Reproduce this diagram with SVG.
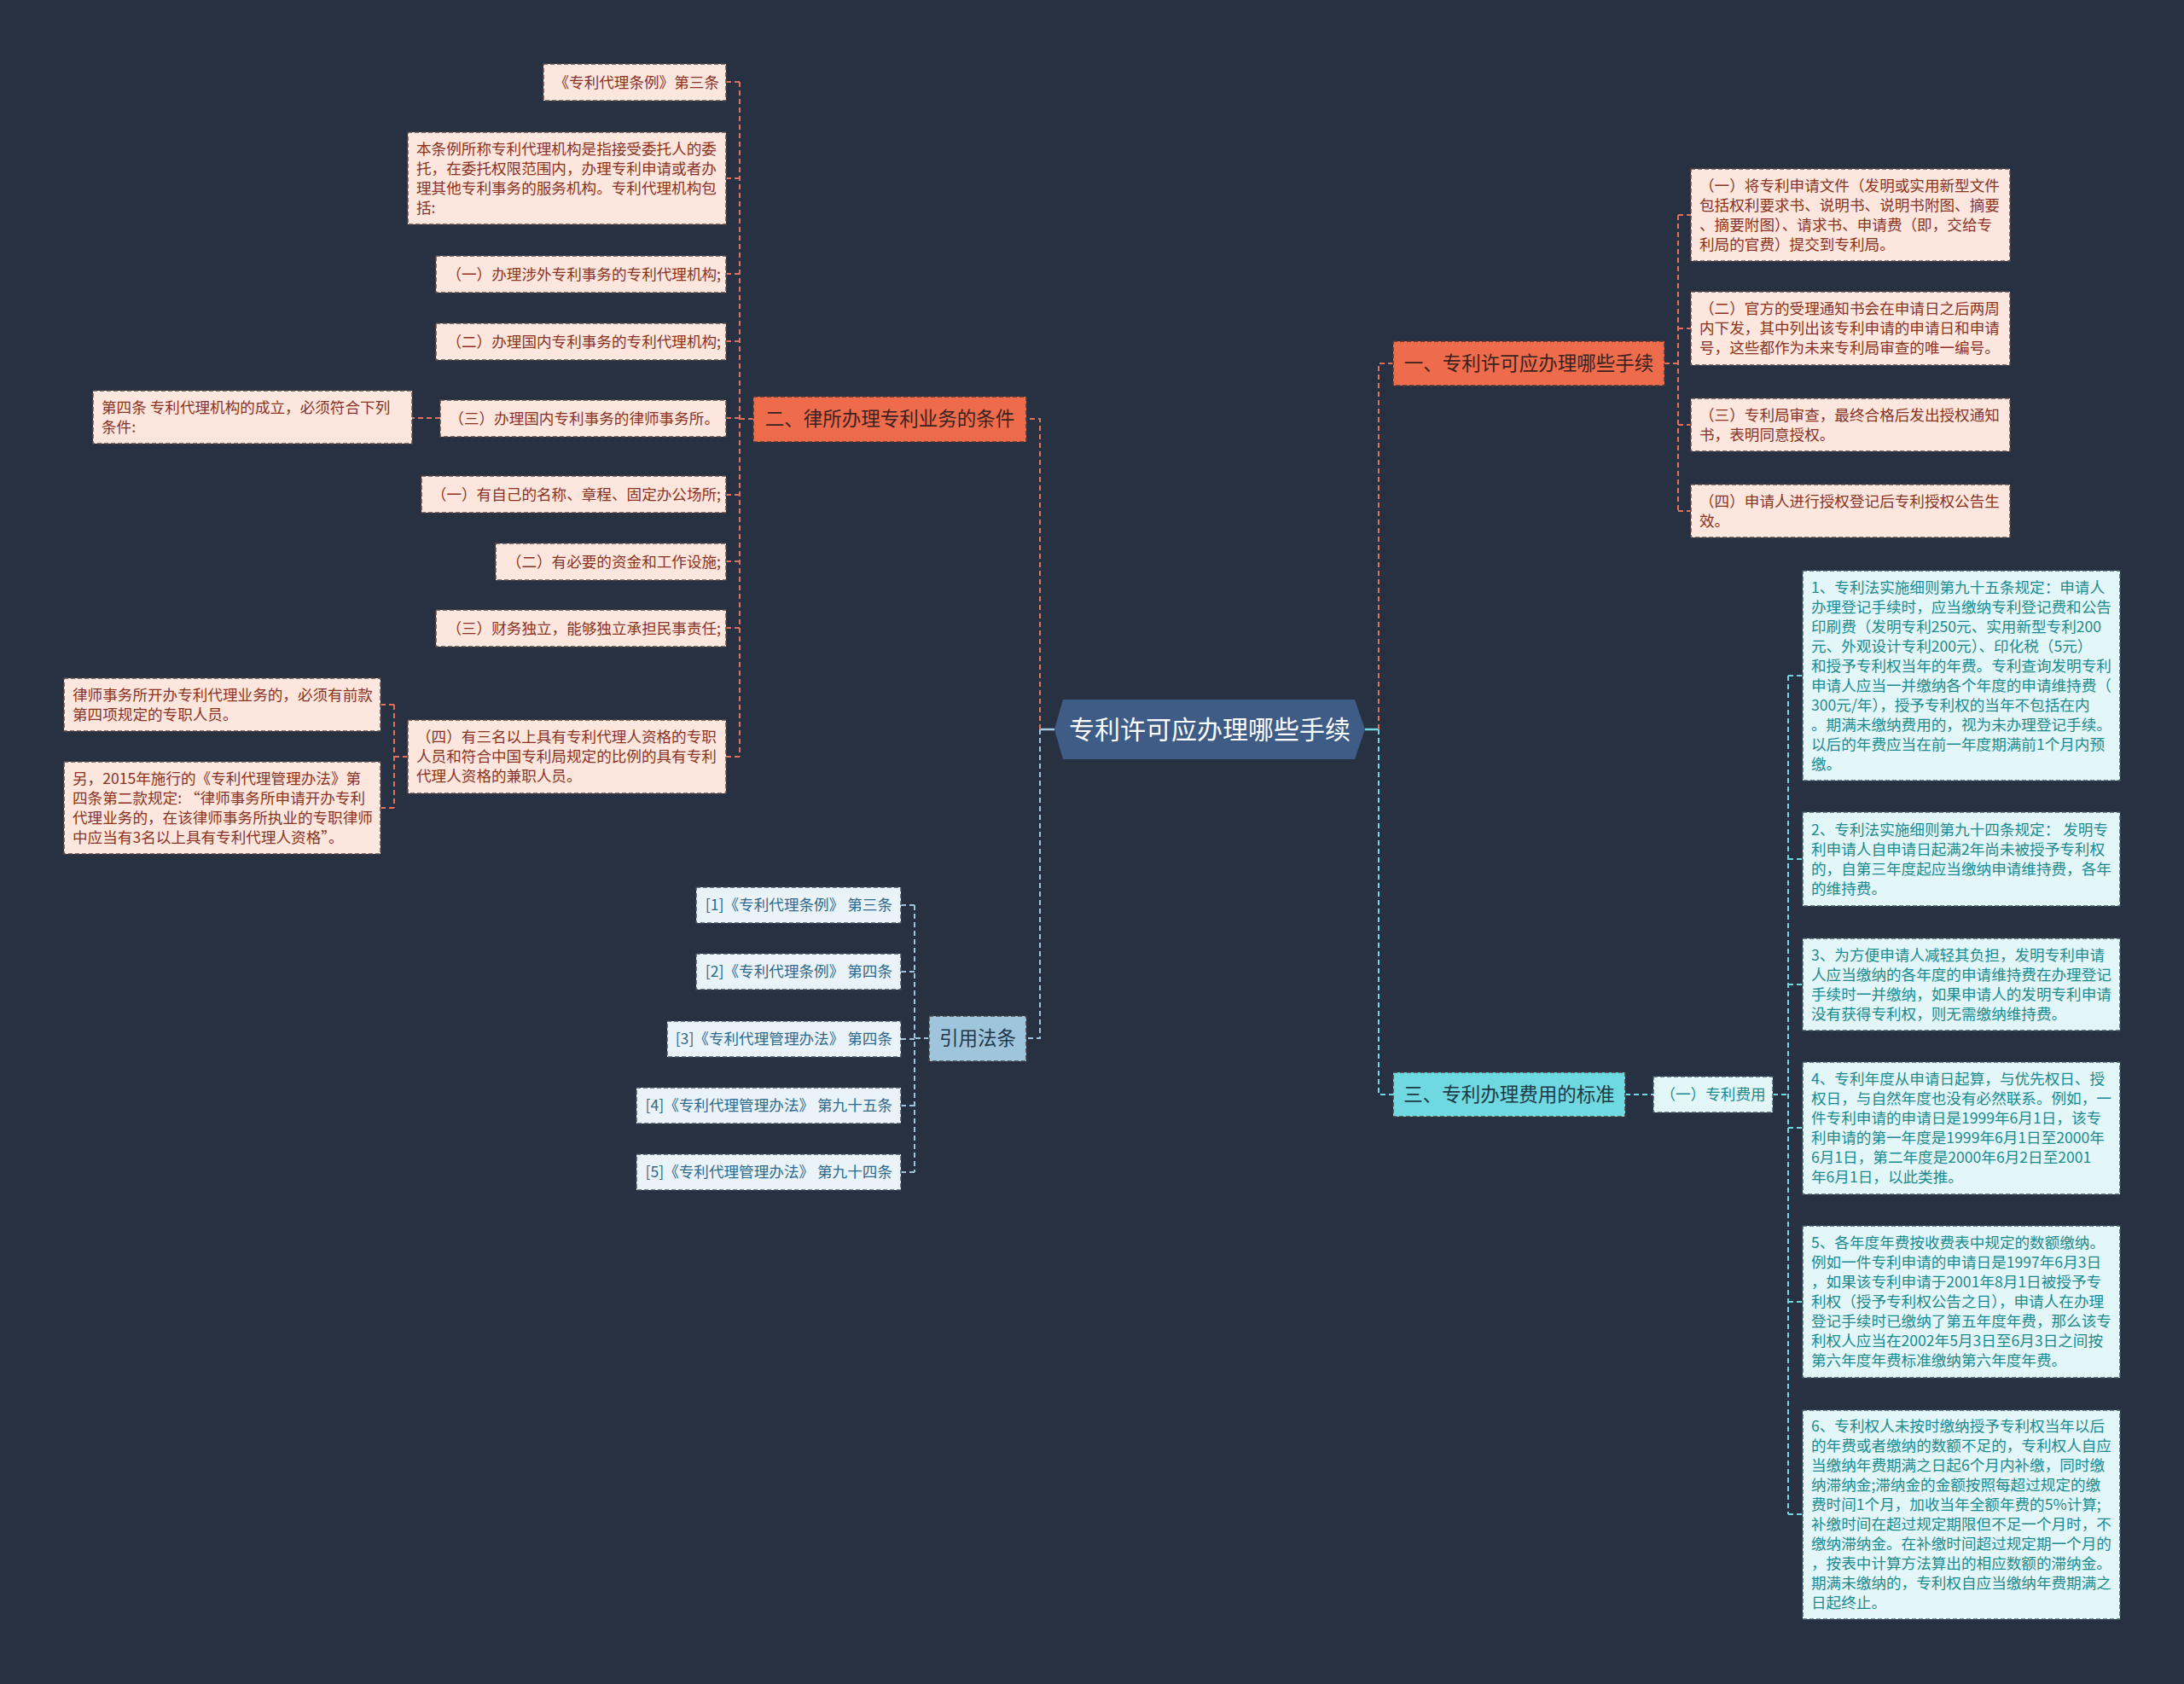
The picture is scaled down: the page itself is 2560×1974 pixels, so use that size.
<svg xmlns="http://www.w3.org/2000/svg" width="2560" height="1974" viewBox="0 0 2560 1974">
<style>
text{font-family:"Noto Sans CJK SC","Noto Sans",sans-serif;}
.bg{fill:#283142;}
.pk rect{fill:#fde6dd;stroke:#5b4a48;stroke-width:1.5;stroke-dasharray:5 3;}
.pk text{fill:#8a3324;font-size:17.6px;}
.cy rect{fill:#e3f7f8;stroke:#3f5a60;stroke-width:1.5;stroke-dasharray:5 3;}
.cy text{fill:#1b8a90;font-size:17.6px;}
.bl rect{fill:#eaf3f8;stroke:#3f5060;stroke-width:1.5;stroke-dasharray:5 3;}
.bl text{fill:#2f6a8e;font-size:17.6px;}
.br rect{stroke:#4a3a3a;stroke-width:1.5;stroke-dasharray:5 3;}
.br text{font-size:22.5px;text-anchor:middle;}
.red rect{fill:#ee6b4c;}
.red text{fill:#3a2220;}
.cyb rect{fill:#6fd8e1;}
.cyb text{fill:#1d3a44;}
.blb rect{fill:#9fc5dd;}
.blb text{fill:#22364a;}
.c{fill:none;stroke-width:2;stroke-dasharray:6 4;}
.cr{stroke:#e2705a;}
.cb{stroke:#9fc5dd;}
.cc{stroke:#6fd8e1;}
.s{fill:none;stroke-width:2.5;}
</style>
<rect class="bg" x="0" y="0" width="2560" height="1974"/>

<g id="connectors">
  <path class="s" stroke="#a9cbe2" d="M1236 855 H1219"/>
  <path class="s" stroke="#6fd8e1" d="M1600 855 H1616"/>
  <path class="c cr" d="M1219 855 V491 H1203"/>
  <path class="c cb" d="M1219 855 V1217 H1203"/>
  <path class="c cr" d="M1616 855 V426 H1633"/>
  <path class="c cc" d="M1616 855 V1283 H1633"/>

  <path class="c cr" d="M883 491 H867 M867 96 V887 M867 96 H851 M867 209 H851 M867 321 H851 M867 400 H851 M867 490 H851 M867 580 H851 M867 658 H851 M867 736 H851 M867 887 H851"/>
  <path class="c cr" d="M516 490 H483"/>
  <path class="c cr" d="M478 887 H462 M462 826 V947 M462 826 H446 M462 947 H446"/>

  <path class="c cb" d="M1089 1217 H1072 M1072 1061 V1374 M1072 1061 H1056 M1072 1139 H1056 M1072 1218 H1056 M1072 1296 H1056 M1072 1374 H1056"/>

  <path class="c cr" d="M1951 426 H1967 M1967 252 V599 M1967 252 H1982 M1967 385 H1982 M1967 498 H1982 M1967 599 H1982"/>

  <path class="c cc" d="M1905 1283 H1938"/>
  <path class="c cc" d="M2078 1283 H2096 M2096 792 V1775 M2096 792 H2113 M2096 1007 H2113 M2096 1154 H2113 M2096 1322 H2113 M2096 1526 H2113 M2096 1775 H2113"/>
</g>

<g id="center">
  <polygon points="1246,820 1588,820 1600,855 1588,890 1246,890 1236,855" fill="#3e5c85"/>
  <text x="1418" y="866" font-size="30" fill="#ffffff" text-anchor="middle">专利许可应办理哪些手续</text>
</g>

<g id="branch2" class="br red">
  <rect x="883" y="465" width="320" height="53"/>
  <text x="1043" y="499">二、律所办理专利业务的条件</text>
</g>
<g id="l1" class="pk">
  <rect x="637" y="75" width="214" height="43"/>
  <text x="843" y="103" text-anchor="end">《专利代理条例》第三条</text>
</g>
<g id="l2" class="pk">
  <rect x="478" y="155" width="373" height="108"/>
  <text x="488" y="180.5"><tspan x="488">本条例所称专利代理机构是指接受委托人的委</tspan><tspan x="488" dy="23">托，在委托权限范围内，办理专利申请或者办</tspan><tspan x="488" dy="23">理其他专利事务的服务机构。专利代理机构包</tspan><tspan x="488" dy="23">括:</tspan></text>
</g>
<g id="l3" class="pk">
  <rect x="511" y="300" width="340" height="43"/>
  <text x="845" y="327.5" text-anchor="end">（一）办理涉外专利事务的专利代理机构;</text>
</g>
<g id="l4" class="pk">
  <rect x="511" y="379" width="340" height="43"/>
  <text x="845" y="406.5" text-anchor="end">（二）办理国内专利事务的专利代理机构;</text>
</g>
<g id="l5" class="pk">
  <rect x="516" y="469" width="335" height="43"/>
  <text x="843" y="496.5" text-anchor="end">（三）办理国内专利事务的律师事务所。</text>
</g>
<g id="l5a" class="pk">
  <rect x="109" y="458" width="374" height="62"/>
  <text x="119" y="483.5"><tspan x="119">第四条 专利代理机构的成立，必须符合下列</tspan><tspan x="119" dy="23">条件:</tspan></text>
</g>
<g id="l6" class="pk">
  <rect x="494" y="558" width="357" height="43"/>
  <text x="845" y="585.5" text-anchor="end">（一）有自己的名称、章程、固定办公场所;</text>
</g>
<g id="l7" class="pk">
  <rect x="581" y="637" width="270" height="43"/>
  <text x="845" y="664.5" text-anchor="end">（二）有必要的资金和工作设施;</text>
</g>
<g id="l8" class="pk">
  <rect x="511" y="715" width="340" height="43"/>
  <text x="845" y="742.5" text-anchor="end">（三）财务独立，能够独立承担民事责任;</text>
</g>
<g id="l9" class="pk">
  <rect x="478" y="844" width="373" height="86"/>
  <text x="488" y="870"><tspan x="488">（四）有三名以上具有专利代理人资格的专职</tspan><tspan x="488" dy="23">人员和符合中国专利局规定的比例的具有专利</tspan><tspan x="488" dy="23">代理人资格的兼职人员。</tspan></text>
</g>
<g id="l9a" class="pk">
  <rect x="75" y="795" width="371" height="62"/>
  <text x="85" y="820.5"><tspan x="85">律师事务所开办专利代理业务的，必须有前款</tspan><tspan x="85" dy="23">第四项规定的专职人员。</tspan></text>
</g>
<g id="l9b" class="pk">
  <rect x="75" y="893" width="371" height="108"/>
  <text x="85" y="918.5"><tspan x="85">另，2015年施行的《专利代理管理办法》第</tspan><tspan x="85" dy="23">四条第二款规定: “律师事务所申请开办专利</tspan><tspan x="85" dy="23">代理业务的，在该律师事务所执业的专职律师</tspan><tspan x="85" dy="23">中应当有3名以上具有专利代理人资格”。</tspan></text>
</g>

<g id="refs" class="br blb">
  <rect x="1089" y="1191" width="114" height="53"/>
  <text x="1146" y="1225">引用法条</text>
</g>
<g id="r1" class="bl">
  <rect x="816" y="1040" width="240" height="42"/>
  <text x="1046" y="1067" text-anchor="end">[1]《专利代理条例》 第三条</text>
</g>
<g id="r2" class="bl">
  <rect x="816" y="1118" width="240" height="42"/>
  <text x="1046" y="1145" text-anchor="end">[2]《专利代理条例》 第四条</text>
</g>
<g id="r3" class="bl">
  <rect x="782" y="1197" width="274" height="42"/>
  <text x="1046" y="1224" text-anchor="end">[3]《专利代理管理办法》 第四条</text>
</g>
<g id="r4" class="bl">
  <rect x="746" y="1275" width="310" height="42"/>
  <text x="1046" y="1302" text-anchor="end">[4]《专利代理管理办法》 第九十五条</text>
</g>
<g id="r5" class="bl">
  <rect x="746" y="1353" width="310" height="42"/>
  <text x="1046" y="1380" text-anchor="end">[5]《专利代理管理办法》 第九十四条</text>
</g>

<g id="branch1" class="br red">
  <rect x="1633" y="400" width="318" height="52"/>
  <text x="1792" y="434">一、专利许可应办理哪些手续</text>
</g>
<g id="p1" class="pk">
  <rect x="1982" y="198" width="374" height="108"/>
  <text x="1992" y="223.5"><tspan x="1992">（一）将专利申请文件（发明或实用新型文件</tspan><tspan x="1992" dy="23">包括权利要求书、说明书、说明书附图、摘要</tspan><tspan x="1992" dy="23">、摘要附图）、请求书、申请费（即，交给专</tspan><tspan x="1992" dy="23">利局的官费）提交到专利局。</tspan></text>
</g>
<g id="p2" class="pk">
  <rect x="1982" y="342" width="374" height="86"/>
  <text x="1992" y="368"><tspan x="1992">（二）官方的受理通知书会在申请日之后两周</tspan><tspan x="1992" dy="23">内下发，其中列出该专利申请的申请日和申请</tspan><tspan x="1992" dy="23">号，这些都作为未来专利局审查的唯一编号。</tspan></text>
</g>
<g id="p3" class="pk">
  <rect x="1982" y="467" width="374" height="62"/>
  <text x="1992" y="492.5"><tspan x="1992">（三）专利局审查，最终合格后发出授权通知</tspan><tspan x="1992" dy="23">书，表明同意授权。</tspan></text>
</g>
<g id="p4" class="pk">
  <rect x="1982" y="568" width="374" height="62"/>
  <text x="1992" y="593.5"><tspan x="1992">（四）申请人进行授权登记后专利授权公告生</tspan><tspan x="1992" dy="23">效。</tspan></text>
</g>

<g id="branch3" class="br cyb">
  <rect x="1633" y="1257" width="272" height="52"/>
  <text x="1769" y="1291">三、专利办理费用的标准</text>
</g>
<g id="fee" class="cy">
  <rect x="1938" y="1262" width="140" height="42"/>
  <text x="2008" y="1289" text-anchor="middle">（一）专利费用</text>
</g>
<g id="c1" class="cy">
  <rect x="2113" y="669" width="372" height="246"/>
  <text x="2123" y="694.5"><tspan x="2123">1、专利法实施细则第九十五条规定：申请人</tspan><tspan x="2123" dy="23">办理登记手续时，应当缴纳专利登记费和公告</tspan><tspan x="2123" dy="23">印刷费（发明专利250元、实用新型专利200</tspan><tspan x="2123" dy="23">元、外观设计专利200元）、印化税（5元）</tspan><tspan x="2123" dy="23">和授予专利权当年的年费。专利查询发明专利</tspan><tspan x="2123" dy="23">申请人应当一并缴纳各个年度的申请维持费（</tspan><tspan x="2123" dy="23">300元/年），授予专利权的当年不包括在内</tspan><tspan x="2123" dy="23">。期满未缴纳费用的，视为未办理登记手续。</tspan><tspan x="2123" dy="23">以后的年费应当在前一年度期满前1个月内预</tspan><tspan x="2123" dy="23">缴。</tspan></text>
</g>
<g id="c2" class="cy">
  <rect x="2113" y="952" width="372" height="110"/>
  <text x="2123" y="978.5"><tspan x="2123">2、专利法实施细则第九十四条规定： 发明专</tspan><tspan x="2123" dy="23">利申请人自申请日起满2年尚未被授予专利权</tspan><tspan x="2123" dy="23">的，自第三年度起应当缴纳申请维持费，各年</tspan><tspan x="2123" dy="23">的维持费。</tspan></text>
</g>
<g id="c3" class="cy">
  <rect x="2113" y="1100" width="372" height="108"/>
  <text x="2123" y="1125.5"><tspan x="2123">3、为方便申请人减轻其负担，发明专利申请</tspan><tspan x="2123" dy="23">人应当缴纳的各年度的申请维持费在办理登记</tspan><tspan x="2123" dy="23">手续时一并缴纳，如果申请人的发明专利申请</tspan><tspan x="2123" dy="23">没有获得专利权，则无需缴纳维持费。</tspan></text>
</g>
<g id="c4" class="cy">
  <rect x="2113" y="1245" width="372" height="155"/>
  <text x="2123" y="1271"><tspan x="2123">4、专利年度从申请日起算，与优先权日、授</tspan><tspan x="2123" dy="23">权日，与自然年度也没有必然联系。例如，一</tspan><tspan x="2123" dy="23">件专利申请的申请日是1999年6月1日，该专</tspan><tspan x="2123" dy="23">利申请的第一年度是1999年6月1日至2000年</tspan><tspan x="2123" dy="23">6月1日，第二年度是2000年6月2日至2001</tspan><tspan x="2123" dy="23">年6月1日，以此类推。</tspan></text>
</g>
<g id="c5" class="cy">
  <rect x="2113" y="1437" width="372" height="178"/>
  <text x="2123" y="1463"><tspan x="2123">5、各年度年费按收费表中规定的数额缴纳。</tspan><tspan x="2123" dy="23">例如一件专利申请的申请日是1997年6月3日</tspan><tspan x="2123" dy="23">，如果该专利申请于2001年8月1日被授予专</tspan><tspan x="2123" dy="23">利权（授予专利权公告之日），申请人在办理</tspan><tspan x="2123" dy="23">登记手续时已缴纳了第五年度年费，那么该专</tspan><tspan x="2123" dy="23">利权人应当在2002年5月3日至6月3日之间按</tspan><tspan x="2123" dy="23">第六年度年费标准缴纳第六年度年费。</tspan></text>
</g>
<g id="c6" class="cy">
  <rect x="2113" y="1653" width="372" height="245"/>
  <text x="2123" y="1678"><tspan x="2123">6、专利权人未按时缴纳授予专利权当年以后</tspan><tspan x="2123" dy="23">的年费或者缴纳的数额不足的，专利权人自应</tspan><tspan x="2123" dy="23">当缴纳年费期满之日起6个月内补缴，同时缴</tspan><tspan x="2123" dy="23">纳滞纳金;滞纳金的金额按照每超过规定的缴</tspan><tspan x="2123" dy="23">费时间1个月，加收当年全额年费的5%计算;</tspan><tspan x="2123" dy="23">补缴时间在超过规定期限但不足一个月时，不</tspan><tspan x="2123" dy="23">缴纳滞纳金。在补缴时间超过规定期一个月的</tspan><tspan x="2123" dy="23">，按表中计算方法算出的相应数额的滞纳金。</tspan><tspan x="2123" dy="23">期满未缴纳的，专利权自应当缴纳年费期满之</tspan><tspan x="2123" dy="23">日起终止。</tspan></text>
</g>
</svg>
